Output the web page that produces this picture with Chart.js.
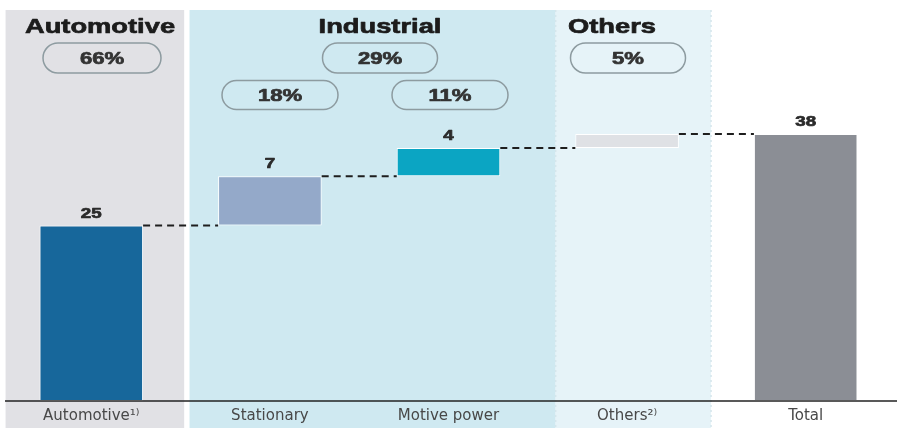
<!DOCTYPE html>
<html lang="en">
<head>
<meta charset="UTF-8">
<title>Waterfall</title>
<script src="https://cdn.jsdelivr.net/npm/chart.js"></script>
<style>
  html, body { margin: 0; padding: 0; background: #ffffff; }
  .wrap { width: 915px; height: 437px; position: relative; }
</style>
</head>
<body>
<div class="wrap"><canvas id="chart" width="915" height="437"></canvas></div>
<script>
// categories and values (waterfall steps)
const labels = ["Automotive\u00B9\u207E", "Stationary", "Motive power", "Others\u00B2\u207E", "Total"];
const values = [25, 7, 4, 2, 38];
const shownValues = ["25", "7", "4", "", "38"];
const barColors = ["#17679b", "#94a9c9", "#0ba5c3", "#dfe1e5", "#8b8e95"];

// groups shown at the top
const groupNames = ["Automotive", "Industrial", "Others"];
const groupShares = ["66%", "29%", "5%"];
const subShares = ["18%", "11%"];

// floating bars: running total for the steps, full bar for the total
let running = 0;
const floating = values.map(function (v, i) {
    if (i === values.length - 1) return [0, v];
    const seg = [running, running + v];
    running += v;
    return seg;
});

const BOLD = "'Liberation Sans', Arial, sans-serif";

// bold text in the source is drawn wide and heavy, so stretch and thicken it
function wideText(ctx, text, cx, cy, size, stretch, color) {
    ctx.save();
    ctx.font = "bold " + size + "px " + BOLD;
    ctx.textAlign = "center";
    ctx.textBaseline = "middle";
    ctx.fillStyle = color;
    ctx.strokeStyle = color;
    ctx.lineWidth = 0.7;
    ctx.lineJoin = "round";
    ctx.translate(cx, cy);
    ctx.scale(stretch, 1);
    ctx.fillText(text, 0, 0);
    ctx.strokeText(text, 0, 0);
    ctx.restore();
}

function pill(ctx, cx, cy, w, h, text) {
    const r = h / 2;
    ctx.beginPath();
    ctx.moveTo(cx - w / 2 + r, cy - r);
    ctx.lineTo(cx + w / 2 - r, cy - r);
    ctx.arc(cx + w / 2 - r, cy, r, -Math.PI / 2, Math.PI / 2);
    ctx.lineTo(cx - w / 2 + r, cy + r);
    ctx.arc(cx - w / 2 + r, cy, r, Math.PI / 2, Math.PI * 1.5);
    ctx.closePath();
    ctx.lineWidth = 1.5;
    ctx.strokeStyle = "#8d9ba0";
    ctx.stroke();
    wideText(ctx, text, cx, cy + 1, 17, 1.3, "#333333");
}

const backdrop = {
    id: "backdrop",
    beforeDraw(chart) {
        const ctx = chart.ctx;
        const x = chart.scales.x;
        const px = function (v) { return x.getPixelForValue(v); };
        const top = 10, bottom = 428;
        ctx.save();
        // group bands
        ctx.fillStyle = "#e1e1e5";
        ctx.fillRect(px(-0.48), top, px(0.52) - px(-0.48), bottom - top);
        ctx.fillStyle = "#cfe9f1";
        ctx.fillRect(px(0.55), top, px(2.6) - px(0.55), bottom - top);
        ctx.fillStyle = "#e6f3f8";
        ctx.fillRect(px(2.6), top, px(3.47) - px(2.6), bottom - top);
        ctx.setLineDash([2, 3]);
        ctx.strokeStyle = "#d6e6ec";
        ctx.lineWidth = 1.5;
        ctx.beginPath();
        ctx.moveTo(px(3.47), top);
        ctx.lineTo(px(3.47), bottom);
        ctx.moveTo(px(2.6), top);
        ctx.lineTo(px(2.6), bottom);
        ctx.stroke();
        ctx.setLineDash([]);

        // group headings
        wideText(ctx, groupNames[0], 100, 27, 21, 1.3, "#1c1c1c");
        wideText(ctx, groupNames[1], 380, 27, 21, 1.3, "#1c1c1c");
        wideText(ctx, groupNames[2], 612, 27, 21, 1.3, "#1c1c1c");

        // share pills
        pill(ctx, 102, 58, 118, 30, groupShares[0]);
        pill(ctx, 380, 58, 115, 30, groupShares[1]);
        pill(ctx, 628, 58, 115, 30, groupShares[2]);
        pill(ctx, 280, 95, 116, 29, subShares[0]);
        pill(ctx, 450, 95, 116, 29, subShares[1]);
        ctx.restore();
    },
    afterDatasetsDraw(chart) {
        const ctx = chart.ctx;
        const y = chart.scales.y;
        const bars = chart.getDatasetMeta(0).data;
        ctx.save();
        // connectors
        ctx.setLineDash([7, 5]);
        ctx.strokeStyle = "#1e1e1e";
        ctx.lineWidth = 2;
        for (let i = 0; i < bars.length - 1; i++) {
            const yy = y.getPixelForValue(floating[i][1]);
            ctx.beginPath();
            ctx.moveTo(bars[i].x + bars[i].width / 2, yy);
            ctx.lineTo(bars[i + 1].x - bars[i + 1].width / 2, yy);
            ctx.stroke();
        }
        ctx.setLineDash([]);
        // value labels
        bars.forEach(function (b, i) {
            if (shownValues[i]) wideText(ctx, shownValues[i], b.x, y.getPixelForValue(floating[i][1]) - 12, 15, 1.25, "#2b2b2b");
        });
        // baseline
        const base = y.getPixelForValue(0);
        ctx.strokeStyle = "#222222";
        ctx.lineWidth = 1.5;
        ctx.beginPath();
        ctx.moveTo(5, base);
        ctx.lineTo(897, base);
        ctx.stroke();
        ctx.restore();
    }
};

new Chart(document.getElementById("chart"), {
    type: "bar",
    data: {
        labels: labels,
        datasets: [{
            data: floating,
            backgroundColor: barColors,
            borderColor: "#ffffff",
            borderWidth: 1,
            borderSkipped: false,
            barPercentage: 0.58,
            categoryPercentage: 1
        }]
    },
    options: {
        responsive: false,
        animation: false,
        layout: { padding: { top: 120, left: 2, right: 20, bottom: 6 } },
        plugins: { legend: { display: false }, tooltip: { enabled: false } },
        scales: {
            x: {
                grid: { display: false, drawTicks: false },
                border: { display: false },
                ticks: {
                    padding: 6,
                    color: "#484848",
                    font: { family: "'DejaVu Sans', sans-serif", size: 15 }
                }
            },
            y: {
                display: false,
                min: 0,
                max: 40
            }
        }
    },
    plugins: [backdrop]
});
</script>
</body>
</html>
